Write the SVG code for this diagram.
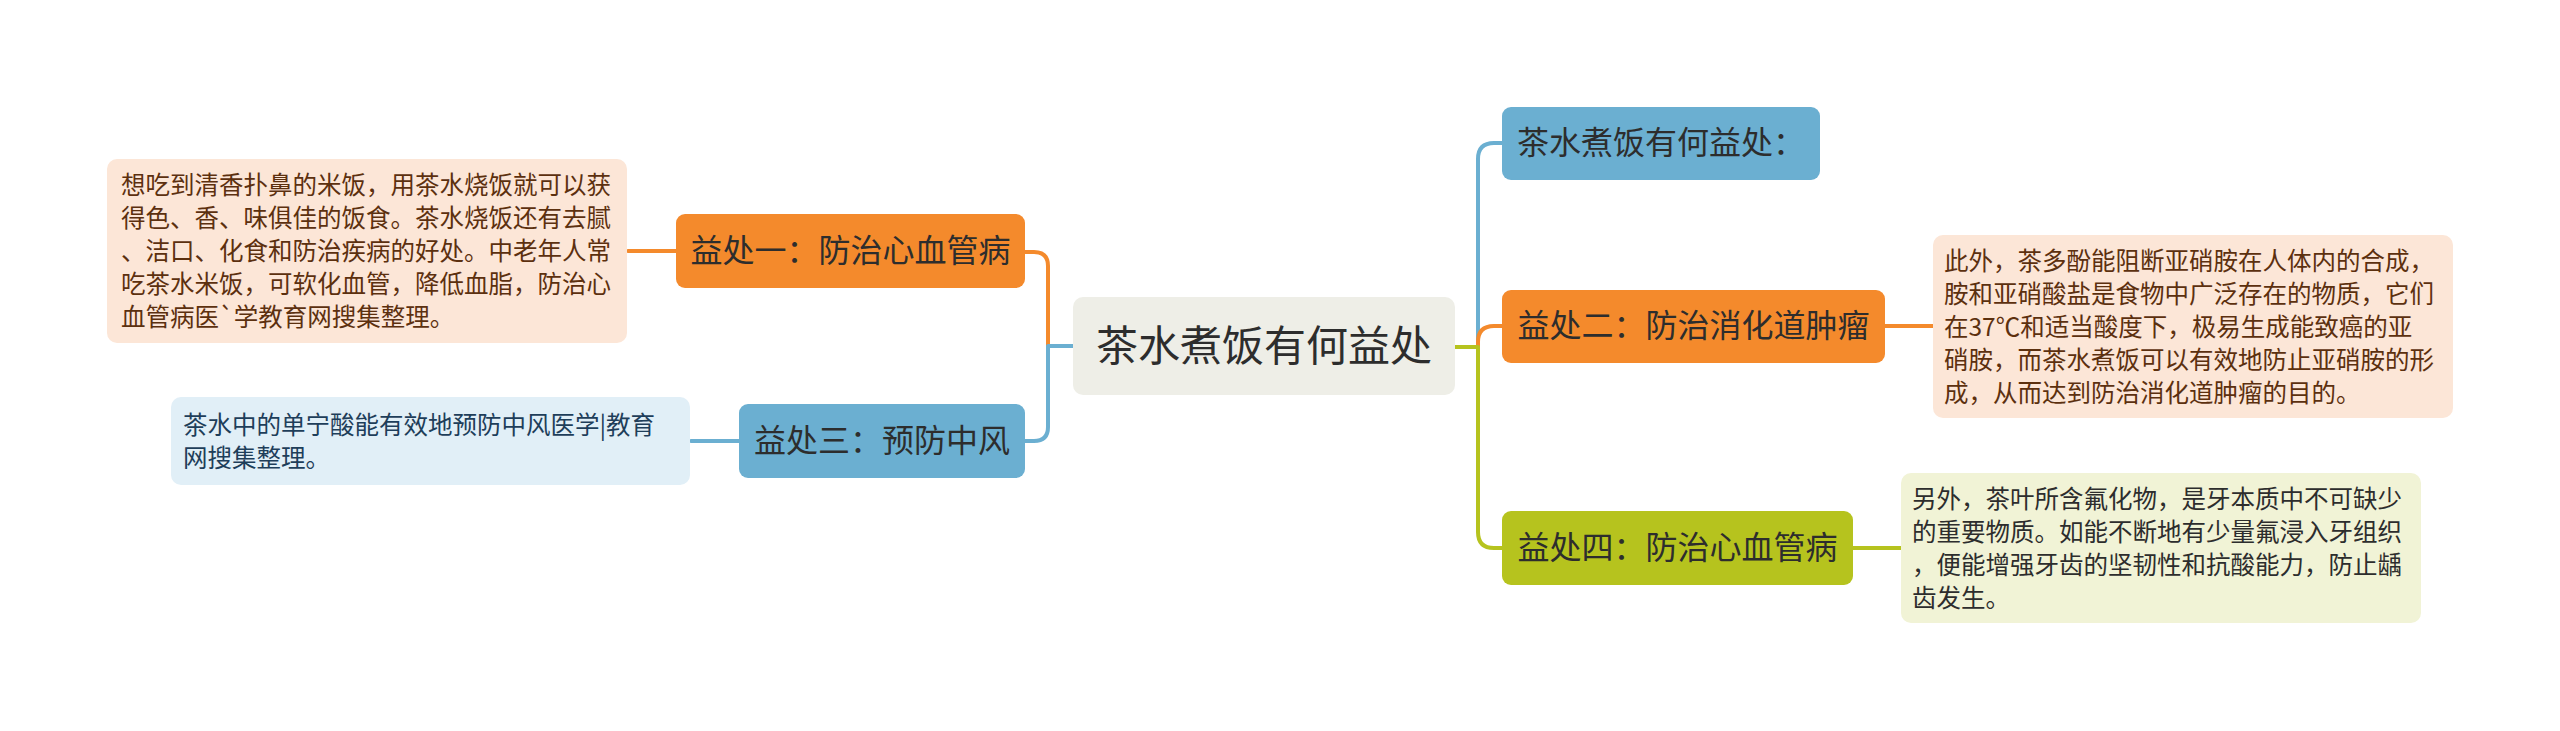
<svg xmlns="http://www.w3.org/2000/svg" width="2560" height="731" viewBox="0 0 2560 731">
<style>
text{font-family:"Noto Sans CJK SC","Noto Sans",sans-serif;}
.c{fill:none;stroke-width:4;stroke-linecap:round;stroke-linejoin:round;}
.o{stroke:#F48A2C;}
.b{stroke:#6BAFD1;}
.g{stroke:#B6C31E;}
.nt{font-size:32px;fill:#2d2d2d;text-anchor:middle;}
.lt{font-size:24.5px;}
</style>
<rect width="2560" height="731" fill="#ffffff"/>
<g id="connectors">
<path class="c o" d="M1048,346 V266 Q1048,252 1034,252 H1025"/>
<path class="c b" d="M1073,346 H1048 V427 Q1048,441 1034,441 H1025"/>
<path class="c o" d="M676,251 H628" stroke-width="3.5"/>
<path class="c b" d="M739,441 H691" stroke-width="3.5"/>
<path class="c b" d="M1478,347 V159 Q1478,143 1494,143 H1502"/>
<path class="c o" d="M1478,347 V342 Q1478,326 1494,326 H1502"/>
<path class="c g" d="M1455,347 H1478 V532 Q1478,548 1494,548 H1502"/>
<path class="c o" d="M1885,326 H1933" stroke-width="3.5"/>
<path class="c g" d="M1853,548 H1901" stroke-width="3.5"/>
</g>
<g id="center">
<rect x="1073" y="297" width="382" height="98" rx="10" fill="#EEEEE7"/>
<text x="1264" y="361" font-size="42" fill="#2d2d2d" text-anchor="middle">茶水煮饭有何益处</text>
</g>
<g id="node1">
<rect x="676" y="214" width="349" height="74" rx="9" fill="#F48A2C"/>
<text class="nt" x="850.5" y="262">益处一：防治心血管病</text>
</g>
<g id="leaf1">
<rect x="107" y="159" width="520" height="184" rx="10" fill="#FCE6D7"/>
<g class="lt" fill="#5C300F">
<text x="121" y="194">想吃到清香扑鼻的米饭，用茶水烧饭就可以获</text>
<text x="121" y="227">得色、香、味俱佳的饭食。茶水烧饭还有去腻</text>
<text x="121" y="260">、洁口、化食和防治疾病的好处。中老年人常</text>
<text x="121" y="293">吃茶水米饭，可软化血管，降低血脂，防治心</text>
<text x="121" y="326">血管病医`学教育网搜集整理。</text>
</g>
</g>
<g id="node3">
<rect x="739" y="404" width="286" height="74" rx="9" fill="#6BAFD1"/>
<text class="nt" x="882" y="452">益处三：预防中风</text>
</g>
<g id="leaf3">
<rect x="171" y="397" width="519" height="88" rx="10" fill="#E1EFF7"/>
<g class="lt" fill="#1E3E5A">
<text x="183" y="434">茶水中的单宁酸能有效地预防中风医学|教育</text>
<text x="183" y="467">网搜集整理。</text>
</g>
</g>
<g id="nodeTop">
<rect x="1502" y="107" width="318" height="73" rx="9" fill="#6BAFD1"/>
<text class="nt" x="1517" y="154" style="text-anchor:start">茶水煮饭有何益处：</text>
</g>
<g id="node2">
<rect x="1502" y="290" width="383" height="73" rx="9" fill="#F48A2C"/>
<text class="nt" x="1693.5" y="337">益处二：防治消化道肿瘤</text>
</g>
<g id="leaf2">
<rect x="1933" y="235" width="520" height="183" rx="10" fill="#FCE6D7"/>
<g class="lt" fill="#5C300F">
<text x="1944" y="270">此外，茶多酚能阻断亚硝胺在人体内的合成，</text>
<text x="1944" y="303">胺和亚硝酸盐是食物中广泛存在的物质，它们</text>
<text x="1944" y="336">在37℃和适当酸度下，极易生成能致癌的亚</text>
<text x="1944" y="369">硝胺，而茶水煮饭可以有效地防止亚硝胺的形</text>
<text x="1944" y="402">成，从而达到防治消化道肿瘤的目的。</text>
</g>
</g>
<g id="node4">
<rect x="1502" y="511" width="351" height="74" rx="9" fill="#B6C31E"/>
<text class="nt" x="1677.5" y="559">益处四：防治心血管病</text>
</g>
<g id="leaf4">
<rect x="1901" y="473" width="520" height="150" rx="10" fill="#F1F3D6"/>
<g class="lt" fill="#2d2d2d">
<text x="1912" y="508">另外，茶叶所含氟化物，是牙本质中不可缺少</text>
<text x="1912" y="541">的重要物质。如能不断地有少量氟浸入牙组织</text>
<text x="1912" y="574">，便能增强牙齿的坚韧性和抗酸能力，防止龋</text>
<text x="1912" y="607">齿发生。</text>
</g>
</g>
</svg>
